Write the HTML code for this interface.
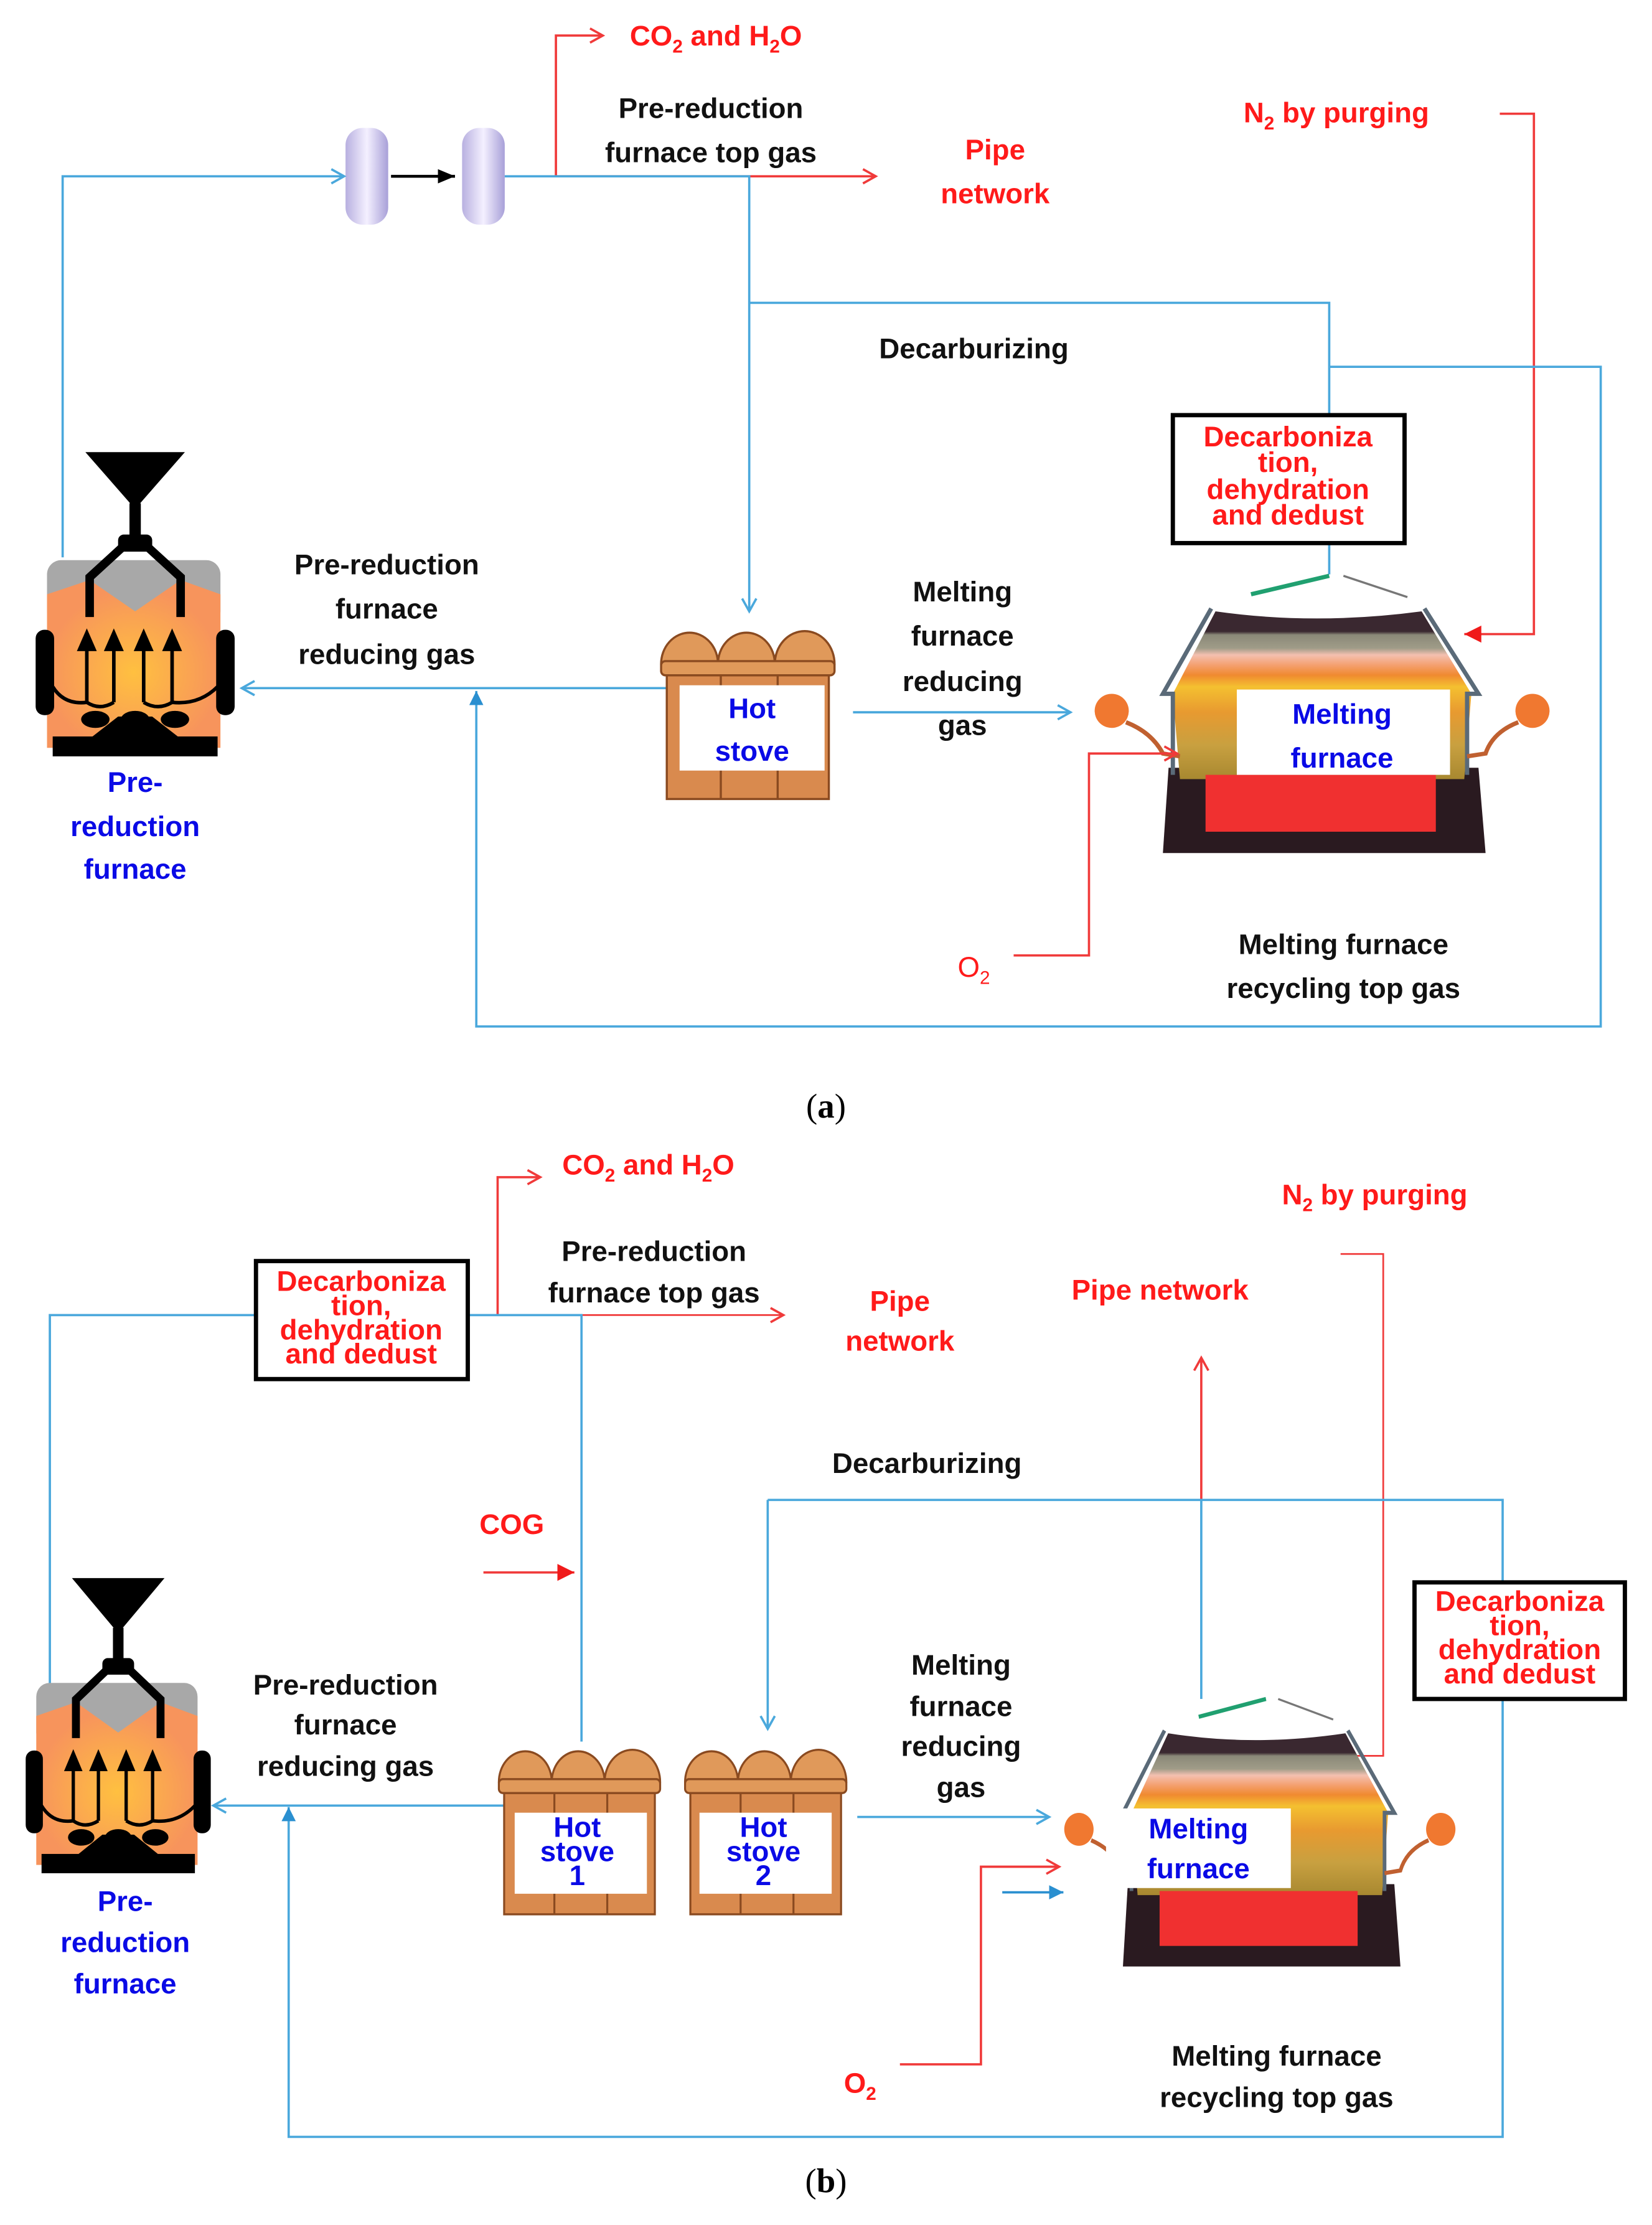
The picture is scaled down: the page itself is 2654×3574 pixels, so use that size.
<!DOCTYPE html>
<html><head><meta charset="utf-8"><style>
html,body{margin:0;padding:0;background:#fff}
svg{display:block}
text{font-family:"Liberation Sans",sans-serif;font-weight:bold}
.k{fill:#111;font-size:20px}
.r{fill:#ff1a1a;font-size:20px}
.b{fill:#0a0ae6;font-size:20px}
.bl{stroke:#4aa8dc;stroke-width:1.6;fill:none}
.rl{stroke:#f03a3a;stroke-width:1.6;fill:none}
</style></head><body>
<svg width="2654" height="3574" viewBox="0 0 1162 1565" xmlns="http://www.w3.org/2000/svg">
<defs>
<marker id="bo" markerWidth="12" markerHeight="12" refX="10" refY="6" orient="auto" markerUnits="userSpaceOnUse"><path d="M1,1 L10,6 L1,11" fill="none" stroke="#4aa8dc" stroke-width="1.6"/></marker>
<marker id="bf" markerWidth="12" markerHeight="12" refX="10" refY="6" orient="auto" markerUnits="userSpaceOnUse"><path d="M0,1 L10,6 L0,11 z" fill="#2a8fd0"/></marker>
<marker id="ro" markerWidth="12" markerHeight="12" refX="10" refY="6" orient="auto" markerUnits="userSpaceOnUse"><path d="M1,1 L10,6 L1,11" fill="none" stroke="#f03a3a" stroke-width="1.6"/></marker>
<marker id="rf" markerWidth="14" markerHeight="14" refX="12" refY="7" orient="auto" markerUnits="userSpaceOnUse"><path d="M0,1 L12,7 L0,13 z" fill="#f01a1a"/></marker>
<marker id="kf" markerWidth="14" markerHeight="14" refX="12" refY="7" orient="auto" markerUnits="userSpaceOnUse"><path d="M0,2 L12,7 L0,12 z" fill="#000"/></marker>
<radialGradient id="og" cx="0.5" cy="0.55" r="0.5"><stop offset="0" stop-color="#ffc040"/><stop offset="1" stop-color="#f7945c"/></radialGradient>
<linearGradient id="cyl" x1="0" x2="1"><stop offset="0" stop-color="#b8b0e0"/><stop offset="0.5" stop-color="#f4f0ff"/><stop offset="1" stop-color="#a8a0d8"/></linearGradient>
<linearGradient id="mf" x1="0" y1="0" x2="0" y2="1">
<stop offset="0" stop-color="#3a2830"/><stop offset="0.12" stop-color="#3a2830"/>
<stop offset="0.14" stop-color="#8a8878"/><stop offset="0.22" stop-color="#a09c88"/>
<stop offset="0.26" stop-color="#f4c0b0"/><stop offset="0.32" stop-color="#f4a070"/>
<stop offset="0.38" stop-color="#f08a30"/><stop offset="0.45" stop-color="#f4c030"/>
<stop offset="0.6" stop-color="#e89a30"/><stop offset="0.8" stop-color="#c8a040"/><stop offset="1" stop-color="#a88830"/></linearGradient>
<g id="prf">
<path d="M35,0 L105,0 L70,40 z" fill="#000"/>
<rect x="66" y="36" width="8" height="26" fill="#000"/>
<rect x="58" y="58" width="24" height="12" rx="4" fill="#000"/>
<rect x="8" y="76" width="122" height="46" rx="10" fill="#a8a8a8"/>
<path d="M8,100 L38,90 L70,112 L102,90 L130,100 L130,208 L8,208 z" fill="url(#og)"/>
<path d="M62,66 L38,88 L38,116 M78,66 L102,88 L102,116" stroke="#000" stroke-width="6" fill="none"/>
<rect x="0" y="125" width="13" height="60" rx="6" fill="#000"/>
<rect x="127" y="125" width="13" height="60" rx="6" fill="#000"/>
<path d="M40,200 L58,186 L82,186 L100,200 z" fill="#000"/>
<rect x="12" y="200" width="116" height="14" fill="#000"/>
<path d="M12,160 Q30,175 48,175 L48,135 M30,175 Q45,180 55,175 L55,135" stroke="#000" stroke-width="0" fill="none"/>
<g stroke="#000" stroke-width="2.5" fill="none">
<path d="M12,165 Q20,178 36,176 L36,138"/><path d="M55,176 L55,138 M55,176 Q45,182 36,176"/>
<path d="M76,176 L76,138 M76,176 Q86,182 96,176"/><path d="M96,176 L96,138 M96,176 Q115,178 128,165"/>
</g>
<g fill="#000"><path d="M29,140 L36,124 L43,140z"/><path d="M48,140 L55,124 L62,140z"/><path d="M69,140 L76,124 L83,140z"/><path d="M89,140 L96,124 L103,140z"/>
<ellipse cx="42" cy="188" rx="10" ry="6"/><ellipse cx="70" cy="188" rx="10" ry="6"/><ellipse cx="98" cy="188" rx="10" ry="6"/></g>
</g>
<g id="hs">
<path d="M2,32 A20,22 0 0 1 42,32 A20,22 0 0 1 82,32 A20,22 0 0 1 124,32 z" fill="#e0995a" stroke="#8a4a20" stroke-width="1.5"/>
<rect x="2" y="30" width="122" height="10" rx="3" fill="#e0995a" stroke="#8a4a20" stroke-width="1.5"/>
<rect x="6" y="40" width="114" height="87" fill="#d98a4e" stroke="#8a4a20" stroke-width="1.5"/>
<path d="M44,40 L44,127 M84,40 L84,127" stroke="#8a4a20" stroke-width="1.5"/>
</g>
<g id="mfur">
<path d="M822,540 L1040,540 L1045,600 L818,600 z" fill="#2a1a20"/>
<path d="M855,430 L1000,430 L1035,488 L1030,548 L830,548 L825,488 z" fill="url(#mf)"/>
<rect x="848" y="545" width="162" height="40" fill="#f03030"/>
<path d="M855,430 Q925,440 1000,430 L985,415 Q930,405 870,415 z" fill="#fff"/>
<path d="M852,428 L818,488 L825,488 L825,545 M1002,428 L1040,488 L1032,488 L1032,545" stroke="#5a6a78" stroke-width="3" fill="none"/>
<path d="M880,418 L935,405" stroke="#20a070" stroke-width="3"/>
<path d="M945,405 L990,420" stroke="#777" stroke-width="1.5"/>
<circle cx="782" cy="500" r="12" fill="#f07830"/><circle cx="1078" cy="500" r="12" fill="#f07830"/>
<path d="M792,508 Q810,515 818,530 L830,532 M1068,508 Q1050,515 1045,530 L1032,532" stroke="#c06030" stroke-width="3" fill="none"/>
</g>
</defs>

<!-- ============ (a) ============ -->
<text class="r" x="443" y="32">CO<tspan font-size="13" dy="5">2</tspan><tspan dy="-5"> and H</tspan><tspan font-size="13" dy="5">2</tspan><tspan dy="-5">O</tspan></text>
<path class="rl" d="M391,124 L391,25 L424,25" marker-end="url(#ro)"/>
<path class="rl" d="M391,124 L616,124" marker-end="url(#ro)"/>
<rect x="243" y="90" width="30" height="68" rx="12" fill="url(#cyl)"/>
<rect x="325" y="90" width="30" height="68" rx="12" fill="url(#cyl)"/>
<path d="M275,124 L320,124" stroke="#000" stroke-width="2" marker-end="url(#kf)"/>
<path class="bl" d="M44,392 L44,124 L242,124" marker-end="url(#bo)"/>
<path class="bl" d="M355,124 L527,124 L527,430" marker-end="url(#bo)"/>
<text class="k" x="500" y="83" text-anchor="middle">Pre-reduction</text>
<text class="k" x="500" y="114" text-anchor="middle">furnace top gas</text>
<text class="r" x="700" y="112" text-anchor="middle">Pipe</text>
<text class="r" x="700" y="143" text-anchor="middle">network</text>
<text class="r" x="940" y="86" text-anchor="middle">N<tspan font-size="13" dy="5">2</tspan><tspan dy="-5"> by purging</tspan></text>
<path class="rl" d="M1055,80 L1079,80 L1079,446 L1030,446" marker-end="url(#rf)"/>
<text class="k" x="685" y="252" text-anchor="middle">Decarburizing</text>
<path class="bl" d="M527,213 L935,213 L935,291"/>
<path class="bl" d="M935,258 L1126,258 L1126,722 L335,722 L335,486" marker-end="url(#bf)"/>
<path class="bl" d="M935,383 L935,404"/>
<rect x="825" y="292" width="163" height="90" fill="#fff" stroke="#000" stroke-width="3"/>
<g class="r" text-anchor="middle" font-size="20"><text class="r" x="906" y="314" text-anchor="middle">Decarboniza</text><text class="r" x="906" y="332" text-anchor="middle">tion,</text><text class="r" x="906" y="351" text-anchor="middle">dehydration</text><text class="r" x="906" y="369" text-anchor="middle">and dedust</text></g>
<use href="#prf" transform="translate(25,318)"/>
<text class="b" x="95" y="557" text-anchor="middle">Pre-</text>
<text class="b" x="95" y="588" text-anchor="middle">reduction</text>
<text class="b" x="95" y="618" text-anchor="middle">furnace</text>
<text class="k" x="272" y="404" text-anchor="middle">Pre-reduction</text>
<text class="k" x="272" y="435" text-anchor="middle">furnace</text>
<text class="k" x="272" y="467" text-anchor="middle">reducing gas</text>
<path class="bl" d="M470,484 L170,484" marker-end="url(#bo)"/>
<use href="#hs" transform="translate(463,435)"/>
<rect x="478" y="482" width="102" height="60" fill="#fff"/>
<text class="b" x="529" y="505" text-anchor="middle">Hot</text>
<text class="b" x="529" y="535" text-anchor="middle">stove</text>
<text class="k" x="677" y="423" text-anchor="middle">Melting</text>
<text class="k" x="677" y="454" text-anchor="middle">furnace</text>
<text class="k" x="677" y="486" text-anchor="middle">reducing</text>
<text class="k" x="677" y="517" text-anchor="middle">gas</text>
<path class="bl" d="M600,501 L753,501" marker-end="url(#bo)"/>
<use href="#mfur"/>
<rect x="870" y="485" width="150" height="60" fill="#fff"/>
<text class="b" x="944" y="509" text-anchor="middle">Melting</text>
<text class="b" x="944" y="540" text-anchor="middle">furnace</text>
<text x="685" y="687" text-anchor="middle" style="fill:#ff1a1a;font-size:20px;font-weight:normal">O<tspan font-size="13" dy="5">2</tspan></text>
<path class="rl" d="M713,672 L766,672 L766,530 L828,530" marker-end="url(#ro)"/>
<text class="k" x="945" y="671" text-anchor="middle">Melting furnace</text>
<text class="k" x="945" y="702" text-anchor="middle">recycling top gas</text>
<text x="581" y="786" text-anchor="middle" style="font-family:'Liberation Serif',serif;font-weight:normal;font-size:24px;fill:#000">(<tspan font-weight="bold">a</tspan>)</text>

<!-- ============ (b) ============ -->
<text class="r" x="456" y="826" text-anchor="middle">CO<tspan font-size="13" dy="5">2</tspan><tspan dy="-5"> and H</tspan><tspan font-size="13" dy="5">2</tspan><tspan dy="-5">O</tspan></text>
<path class="rl" d="M350,925 L350,828 L380,828" marker-end="url(#ro)"/>
<path class="rl" d="M329,925 L551,925" marker-end="url(#ro)" style="stroke-width:1.2"/>
<path class="bl" d="M35,1185 L35,925 L180,925"/>
<path class="bl" d="M329,925 L409,925 L409,1225"/>
<rect x="180" y="887" width="149" height="83" fill="#fff" stroke="#000" stroke-width="3"/>
<text class="r" x="254" y="908" text-anchor="middle">Decarboniza</text><text class="r" x="254" y="925" text-anchor="middle">tion,</text><text class="r" x="254" y="942" text-anchor="middle">dehydration</text><text class="r" x="254" y="959" text-anchor="middle">and dedust</text>
<text class="k" x="460" y="887" text-anchor="middle">Pre-reduction</text>
<text class="k" x="460" y="916" text-anchor="middle">furnace top gas</text>
<text class="r" x="633" y="922" text-anchor="middle">Pipe</text>
<text class="r" x="633" y="950" text-anchor="middle">network</text>
<text class="r" x="816" y="914" text-anchor="middle">Pipe network</text>
<path class="rl" d="M845,1055 L845,955" marker-end="url(#ro)"/>
<text class="r" x="967" y="847" text-anchor="middle">N<tspan font-size="13" dy="5">2</tspan><tspan dy="-5"> by purging</tspan></text>
<path class="rl" d="M943,882 L973,882 L973,1235 L930,1235" marker-end="url(#rf)" style="stroke-width:1.2"/>
<text class="k" x="652" y="1036" text-anchor="middle">Decarburizing</text>
<path class="bl" d="M540,1055 L1057,1055 L1057,1503 L203,1503 L203,1271" marker-end="url(#bf)"/>
<path class="bl" d="M540,1055 L540,1216" marker-end="url(#bo)"/>
<path class="bl" d="M845,1055 L845,1195"/>
<rect x="995" y="1113" width="148" height="82" fill="#fff" stroke="#000" stroke-width="3"/>
<text class="r" x="1069" y="1133" text-anchor="middle">Decarboniza</text><text class="r" x="1069" y="1150" text-anchor="middle">tion,</text><text class="r" x="1069" y="1167" text-anchor="middle">dehydration</text><text class="r" x="1069" y="1184" text-anchor="middle">and dedust</text>
<text class="r" x="360" y="1079" text-anchor="middle" font-size="22">COG</text>
<path class="rl" d="M340,1106 L404,1106" marker-end="url(#rf)"/>
<use href="#prf" transform="translate(18,1110) scale(0.93,0.97)"/>
<text class="b" x="88" y="1344" text-anchor="middle">Pre-</text>
<text class="b" x="88" y="1373" text-anchor="middle">reduction</text>
<text class="b" x="88" y="1402" text-anchor="middle">furnace</text>
<text class="k" x="243" y="1192" text-anchor="middle">Pre-reduction</text>
<text class="k" x="243" y="1220" text-anchor="middle">furnace</text>
<text class="k" x="243" y="1249" text-anchor="middle">reducing gas</text>
<path class="bl" d="M355,1270 L150,1270" marker-end="url(#bo)"/>
<use href="#hs" transform="translate(349,1222) scale(0.93,0.98)"/>
<use href="#hs" transform="translate(480,1222) scale(0.93,0.98)"/>
<rect x="362" y="1275" width="93" height="57" fill="#fff"/>
<rect x="492" y="1275" width="93" height="57" fill="#fff"/>
<g class="b" text-anchor="middle">
<text class="b" x="406" y="1292" text-anchor="middle">Hot</text><text class="b" x="406" y="1309" text-anchor="middle">stove</text><text class="b" x="406" y="1326" text-anchor="middle">1</text>
<text class="b" x="537" y="1292" text-anchor="middle">Hot</text><text class="b" x="537" y="1309" text-anchor="middle">stove</text><text class="b" x="537" y="1326" text-anchor="middle">2</text></g>
<text class="k" x="676" y="1178" text-anchor="middle">Melting</text>
<text class="k" x="676" y="1207" text-anchor="middle">furnace</text>
<text class="k" x="676" y="1235" text-anchor="middle">reducing</text>
<text class="k" x="676" y="1264" text-anchor="middle">gas</text>
<path class="bl" d="M603,1278 L738,1278" marker-end="url(#bo)"/>
<g transform="translate(740,1195) scale(0.86,0.965) translate(-760,-405)"><use href="#mfur"/></g>
<rect x="778" y="1272" width="130" height="56" fill="#fff"/>
<text class="b" x="843" y="1293" text-anchor="middle">Melting</text>
<text class="b" x="843" y="1321" text-anchor="middle">furnace</text>
<path class="bl" d="M705,1331 L748,1331" marker-end="url(#bf)" style="stroke:#2a8fd0"/>
<text x="605" y="1472" text-anchor="middle" style="fill:#ff1a1a;font-size:20px;font-weight:bold">O<tspan font-size="13" dy="5">2</tspan></text>
<path class="rl" d="M633,1452 L690,1452 L690,1313 L745,1313" marker-end="url(#ro)"/>
<text class="k" x="898" y="1453" text-anchor="middle">Melting furnace</text>
<text class="k" x="898" y="1482" text-anchor="middle">recycling top gas</text>
<text x="581" y="1542" text-anchor="middle" style="font-family:'Liberation Serif',serif;font-weight:normal;font-size:24px;fill:#000">(<tspan font-weight="bold">b</tspan>)</text>
</svg>
</body></html>
